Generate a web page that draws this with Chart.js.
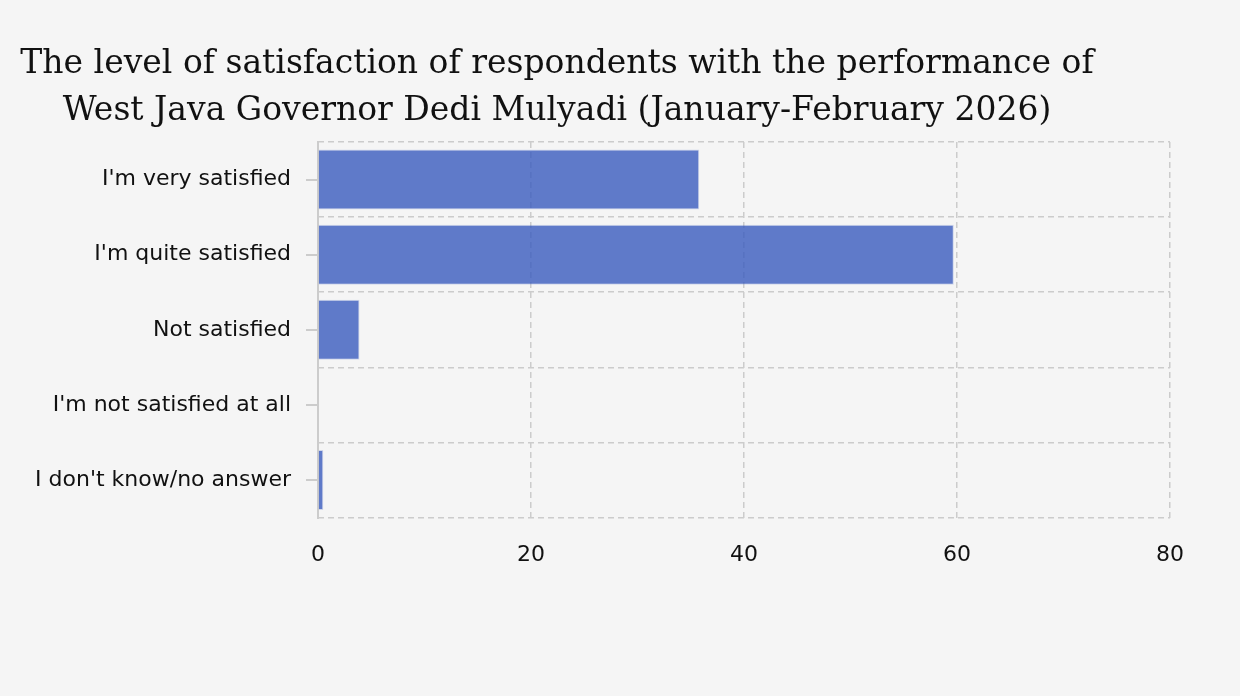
<!DOCTYPE html>
<html>
<head>
<meta charset="utf-8">
<title>Satisfaction with Dedi Mulyadi</title>
<script src="https://cdn.jsdelivr.net/npm/chart.js@4.4.1/dist/chart.umd.min.js"></script>
<style>
  html, body { margin: 0; padding: 0; background: #f5f5f5; }
  #wrap { position: relative; width: 1240px; height: 696px; }
  #myChart { position: absolute; left: 0; top: 0; }
  #titulo {
    position: absolute; left: 0; top: 38px; width: 1114px;
    text-align: center; font-family: "DejaVu Serif", serif;
    font-size: 33px; line-height: 47px; color: #111;
  }
</style>
</head>
<body>
<div id="wrap">
  <canvas id="myChart" width="1240" height="696"></canvas>
  <div id="titulo">The level of satisfaction of respondents with the performance of<br>West Java Governor Dedi Mulyadi (January-February 2026)</div>
</div>
<script>
const categorias = [
  "I'm very satisfied",
  "I'm quite satisfied",
  "Not satisfied",
  "I'm not satisfied at all",
  "I don't know/no answer"
];
const porcentajes = [35.8, 59.7, 3.9, 0, 0.5];
const ticksX = [0, 20, 40, 60, 80];

const gris = '#cccccc';
const fuenteEjes = { family: "'DejaVu Sans', Verdana, sans-serif", size: 22 };

const ctx = document.getElementById('myChart');

const grafico = new Chart(ctx, {
  type: 'bar',
  data: {
    labels: categorias,
    datasets: [{
      label: 'Satisfaction',
      data: porcentajes,
      backgroundColor: 'rgba(57, 91, 190, 0.8)',
      borderColor: 'rgba(57, 91, 190, 0.2)',
      borderWidth: 1,
      barPercentage: 0.8,
      categoryPercentage: 1
    }]
  },
  options: {
    indexAxis: 'y',
    responsive: false,
    animation: false,
    layout: { padding: { left: 30, right: 70, top: 142, bottom: 104 } },
    plugins: {
      legend: { display: false },
      tooltip: { enabled: false }
    },
    scales: {
      x: {
        min: ticksX[0],
        max: ticksX[ticksX.length - 1],
        afterBuildTicks: (scale) => { scale.ticks = ticksX.map(v => ({ value: v })); },
        ticks: { padding: 24, color: '#111', font: fuenteEjes },
        grid: { color: gris, drawTicks: false, lineWidth: 1.5 },
        border: { display: false, dash: [6, 4] }
      },
      y: {
        ticks: { padding: 15, color: '#111', font: fuenteEjes },
        grid: { offset: false, drawOnChartArea: false, tickLength: 12, color: gris, lineWidth: 2 },
        border: { display: true, color: gris, width: 2 },
        afterFit: (scale) => { scale.width = 288; }
      },
      // dashed lines between the categories
      yLineas: {
        type: 'category',
        labels: categorias,
        position: 'left',
        offset: true,
        ticks: { display: false },
        grid: { offset: true, drawTicks: false, color: gris, lineWidth: 1.5 },
        border: { display: false, dash: [6, 4] }
      }
    }
  }
});
</script>
</body>
</html>
